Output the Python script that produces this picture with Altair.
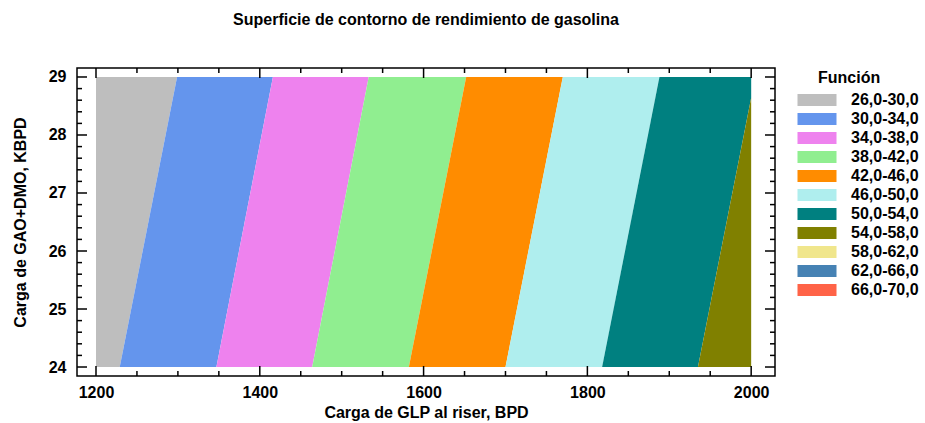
import altair as alt
import pandas as pd

# Legend classes of the response surface and their fill colours
level_labels = ["26,0-30,0", "30,0-34,0", "34,0-38,0", "38,0-42,0", "42,0-46,0",
                "46,0-50,0", "50,0-54,0", "54,0-58,0", "58,0-62,0", "62,0-66,0",
                "66,0-70,0"]
level_colors = ["#BEBEBE", "#6495ED", "#EE82EE", "#90EE90", "#FF8C00",
                "#AFEEEE", "#008080", "#808000", "#F0E68C", "#4682B4",
                "#FF6347"]

# Contour lines 30, 34, ..., 54: GLP load (BPD) where each line meets
# GAO+DMO = 24 KBPD and GAO+DMO = 29 KBPD
boundary_levels = [30, 34, 38, 42, 46, 50, 54]
boundary_x_low = [1229, 1347, 1464, 1582, 1700, 1818, 1935]
boundary_x_high = [1299, 1416, 1533, 1652, 1770, 1888, 2005]

# Experimental region
x_min, x_max = 1200, 2000
y_min, y_max = 24, 29

# Axis tick positions
x_major = [1200, 1400, 1600, 1800, 2000]
x_minor = [1250, 1300, 1350, 1450, 1500, 1550, 1650, 1700, 1750,
           1850, 1900, 1950]
y_major = [24, 25, 26, 27, 28, 29]
y_minor = [24.2, 24.4, 24.6, 24.8, 25.2, 25.4, 25.6, 25.8, 26.2, 26.4,
           26.6, 26.8, 27.2, 27.4, 27.6, 27.8, 28.2, 28.4, 28.6, 28.8]

FONT = "Liberation Sans"

# Each filled band lies between two consecutive contour lines, clipped to
# the experimental region.
edges = ([(x_min, x_min)] + list(zip(boundary_x_low, boundary_x_high))
         + [(x_max, x_max)])


def edge_x(edge, y):
    a, b = edge
    t = (y - y_min) / (y_max - y_min)
    return min(max(a + (b - a) * t, x_min), x_max)


rows = []
for k in range(len(edges) - 1):
    left, right = edges[k], edges[k + 1]
    ys = {float(y_min), float(y_max)}
    for a, b in (left, right):
        if a != b:
            for c in (x_min, x_max):
                t = (c - a) / (b - a)
                if 0 < t < 1:
                    ys.add(y_min + (y_max - y_min) * t)
    for y in sorted(ys):
        rows.append({"band": level_labels[k], "y": y,
                     "x_left": edge_x(left, y), "x_right": edge_x(right, y)})
bands = pd.DataFrame(rows)

W, H = 698, 308
x_scale = alt.Scale(domain=[1176.8, 2029.1], nice=False, zero=False)
y_scale = alt.Scale(domain=[23.845, 29.155], nice=False, zero=False)

x_axis = alt.Axis(values=x_major, format="d", ticks=False, tickSize=0,
                  domain=False, grid=False, labelPadding=8,
                  labelFont=FONT, labelFontSize=16,
                  labelFontWeight="bold", labelColor="black",
                  title="Carga de GLP al riser, BPD", titleFont=FONT,
                  titleFontSize=16, titleFontWeight="bold",
                  titleColor="black", titlePadding=4)
y_axis = alt.Axis(values=y_major, format="d", ticks=False, tickSize=0,
                  domain=False, grid=False, labelPadding=11,
                  labelFont=FONT, labelFontSize=16,
                  labelFontWeight="bold", labelColor="black",
                  title="Carga de GAO+DMO, KBPD", titleFont=FONT,
                  titleFontSize=16, titleFontWeight="bold",
                  titleColor="black", titlePadding=20)

surface = alt.Chart(bands).mark_area(orient="horizontal", opacity=1).encode(
    y=alt.Y("y:Q", scale=y_scale, axis=y_axis),
    x=alt.X("x_left:Q", scale=x_scale, axis=x_axis, stack=None),
    x2="x_right:Q",
    color=alt.Color("band:N",
                    scale=alt.Scale(domain=level_labels, range=level_colors),
                    legend=alt.Legend(
                        title="Función", orient="none", legendX=741, legendY=2,
                        titleFont=FONT, titleFontSize=16,
                        titleFontWeight="bold", titleColor="black",
                        titlePadding=6,
                        labelFont=FONT, labelFontSize=16,
                        labelFontWeight="bold", labelColor="black",
                        symbolType="M-3.8,-0.8H1.4V0.8H-3.8Z",
                        symbolSize=225, symbolStrokeWidth=0,
                        symbolOpacity=1, labelOffset=17, rowPadding=3)),
)


def tick_layer(values, channel, start, stop):
    df = pd.DataFrame({"v": values})
    base = alt.Chart(df).mark_rule(color="black", strokeWidth=1.5)
    if channel == "x":
        return base.encode(x=alt.X("v:Q", scale=x_scale, axis=x_axis),
                           y=alt.value(start), y2=alt.value(stop))
    return base.encode(y=alt.Y("v:Q", scale=y_scale, axis=y_axis),
                       x=alt.value(start), x2=alt.value(stop))


MAJ, MIN = 10, 5
ticks = [
    tick_layer(x_major, "x", H, H - MAJ), tick_layer(x_minor, "x", H, H - MIN),
    tick_layer(x_major, "x", 0, MAJ), tick_layer(x_minor, "x", 0, MIN),
    tick_layer(y_major, "y", 0, MAJ), tick_layer(y_minor, "y", 0, MIN),
    tick_layer(y_major, "y", W, W - MAJ), tick_layer(y_minor, "y", W, W - MIN),
]

chart = alt.layer(surface, *ticks).properties(
    width=W, height=H,
    autosize=alt.AutoSizeParams(type="none"),
    padding={"left": 77, "top": 68, "right": 150, "bottom": 47},
    title=alt.TitleParams(
        text="Superficie de contorno de rendimiento de gasolina",
        font=FONT, fontSize=16, fontWeight="bold", color="black",
        anchor="middle", frame="group", offset=26, baseline="alphabetic"),
).configure(background="white").configure_view(stroke="black", strokeWidth=1.5)

chart.save("out.html", embed_options={"renderer": "svg", "actions": False})
